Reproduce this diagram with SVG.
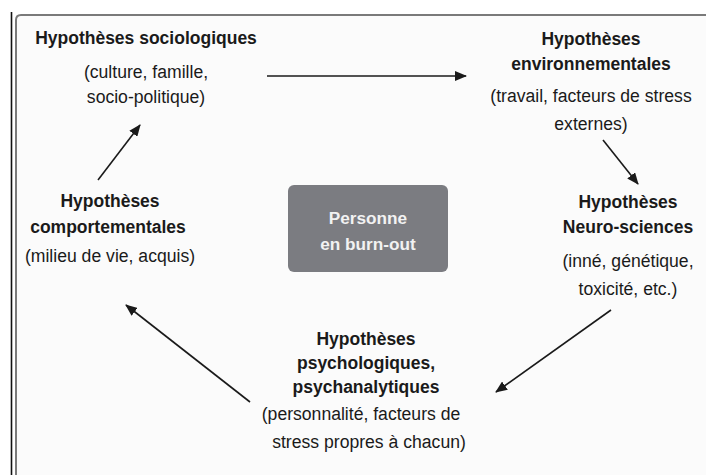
<svg xmlns="http://www.w3.org/2000/svg" width="706" height="475" viewBox="0 0 706 475">
<style>
text{font-family:"Liberation Sans",Arial,sans-serif;fill:#1a1a1a;text-anchor:middle}
.t{font-weight:bold;font-size:17.5px}
.s{font-size:17.6px}
.c{font-weight:bold;font-size:17.2px;fill:#f2f2f2}
.a{stroke:#1a1a1a;stroke-width:1.6;fill:none;marker-end:url(#ah)}
</style>
<defs>
<marker id="ah" viewBox="0 0 12 10" refX="11" refY="5" markerWidth="12" markerHeight="10" markerUnits="userSpaceOnUse" orient="auto">
<path d="M0,0 L12,5 L0,10 Z" fill="#1a1a1a"/>
</marker>
</defs>
<rect width="706" height="475" fill="#ffffff"/>
<path d="M16,480 L16,20 Q16,15 21,15 L710,15 L710,480 Z" fill="#fbfbfb" stroke="#7a7a7a" stroke-width="2"/>
<line x1="11.5" y1="12" x2="11.5" y2="475" stroke="#111" stroke-width="1.6"/>

<g id="center">
<rect x="288" y="185" width="160" height="87" rx="6" fill="#7b7c81"/>
<text class="c" x="368" y="224">Personne</text>
<text class="c" x="368" y="250">en burn-out</text>
</g>
<g id="sociologiques">
<text class="t" x="146" y="44">Hypothèses sociologiques</text>
<text class="s" x="146" y="78">(culture, famille,</text>
<text class="s" x="146" y="103">socio-politique)</text>
</g>
<g id="environnementales">
<text class="t" x="591" y="45">Hypothèses</text>
<text class="t" x="591" y="70">environnementales</text>
<text class="s" x="591" y="102">(travail, facteurs de stress</text>
<text class="s" x="591" y="130">externes)</text>
</g>
<g id="neurosciences">
<text class="t" x="628" y="208">Hypothèses</text>
<text class="t" x="628" y="233">Neuro-sciences</text>
<text class="s" x="628" y="267">(inné, génétique,</text>
<text class="s" x="628" y="295">toxicité, etc.)</text>
</g>
<g id="psychologiques">
<text class="t" x="366" y="345">Hypothèses</text>
<text class="t" x="366" y="369">psychologiques,</text>
<text class="t" x="366" y="393">psychanalytiques</text>
<text class="s" x="361" y="420">(personnalité, facteurs de</text>
<text class="s" x="369" y="448">stress propres à chacun)</text>
</g>
<g id="comportementales">
<text class="t" x="110" y="207">Hypothèses</text>
<text class="t" x="108" y="233">comportementales</text>
<text class="s" x="110" y="262">(milieu de vie, acquis)</text>
</g>
<g id="connectors">
<line class="a" x1="267" y1="76" x2="466" y2="76"/>
<line class="a" x1="603" y1="140" x2="638" y2="184"/>
<line class="a" x1="611" y1="310" x2="496" y2="392"/>
<line class="a" x1="250" y1="402" x2="126" y2="305"/>
<line class="a" x1="98" y1="180" x2="140" y2="125"/>
</g>
</svg>
